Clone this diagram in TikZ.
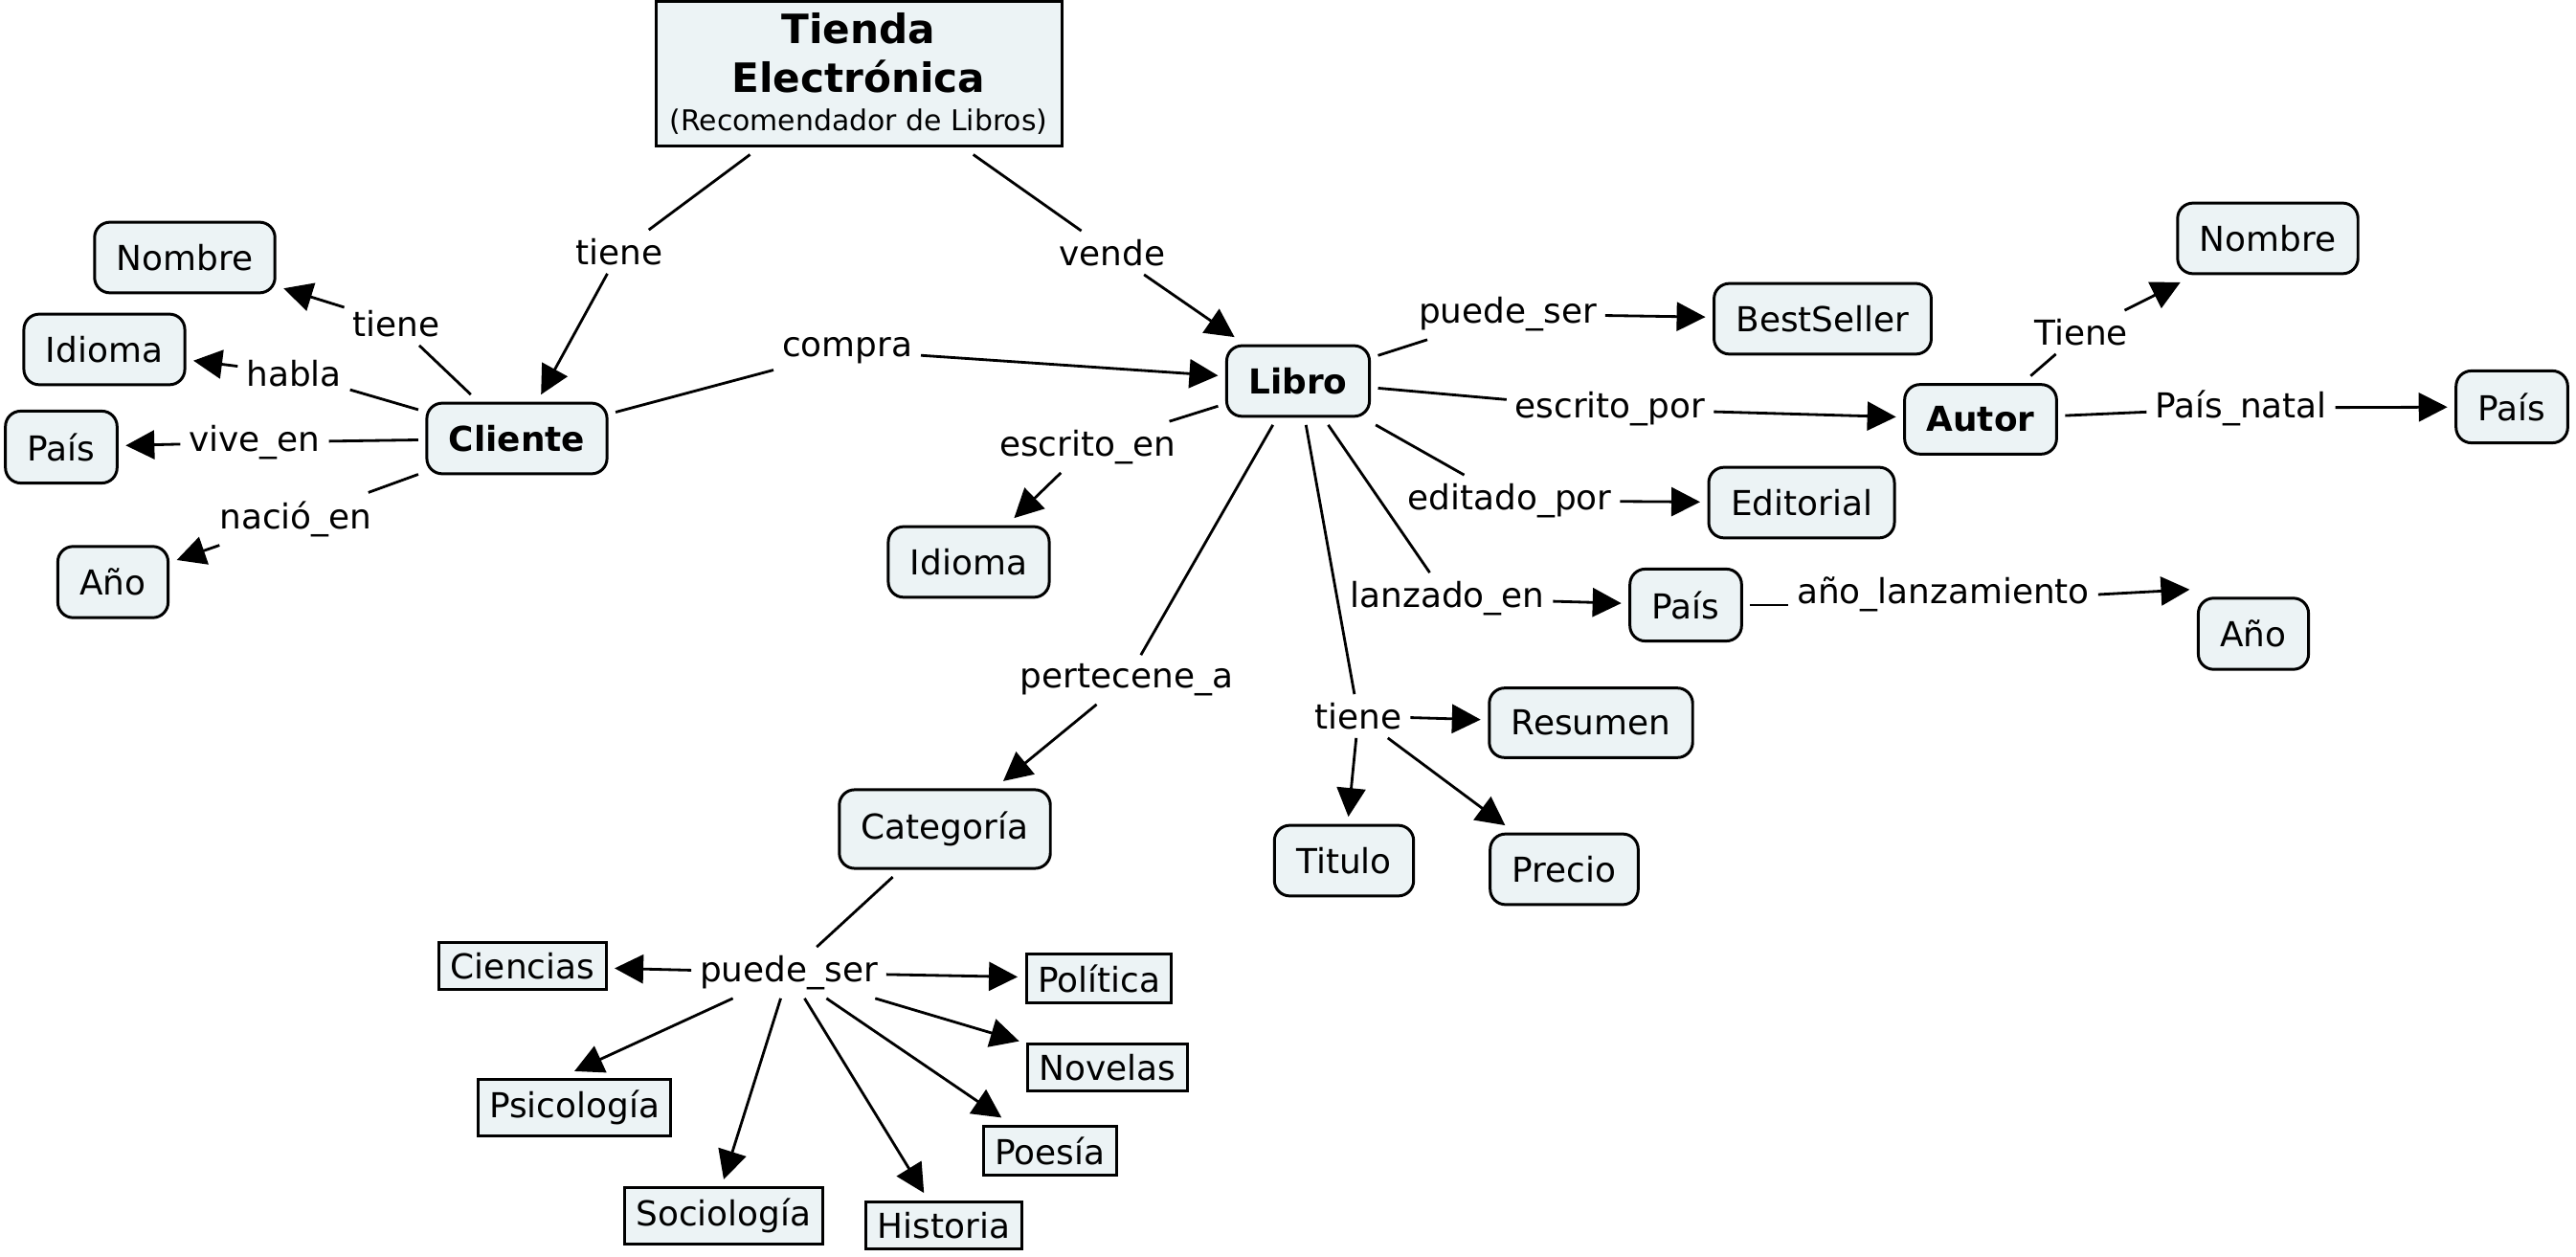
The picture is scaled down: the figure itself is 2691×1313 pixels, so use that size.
\documentclass[tikz,border=0pt]{standalone}
\usepackage{fontspec}
\setmainfont{DejaVu Sans}
\usetikzlibrary{arrows.meta}
\definecolor{cfill}{RGB}{236,243,245}
\tikzset{
  concept/.style={draw, line width=0.85pt, fill=cfill, rounded corners=1.6mm, inner xsep=2.3mm, inner ysep=2.3mm, outer sep=0.9mm, font=\fontsize{10.2}{12}\selectfont},
  bconcept/.style={concept, font=\fontsize{10.2}{12}\selectfont\bfseries},
  leaf/.style={draw, line width=0.85pt, fill=cfill, inner xsep=1.2mm, inner ysep=1.1mm, outer sep=0.9mm, font=\fontsize{10.2}{12}\selectfont},
  titlebox/.style={draw, line width=0.85pt, fill=cfill, align=center, minimum width=42.4mm, minimum height=15.1mm, inner sep=0.5mm, outer sep=0.9mm, font=\fontsize{12}{14.5}\selectfont\bfseries},
  lab/.style={inner sep=0.9mm, outer sep=0pt, font=\fontsize{10.2}{12}\selectfont},
  ln/.style={line width=0.8pt},
  arr/.style={line width=0.8pt, -{Triangle[length=3mm,width=3mm]}}
}
\begin{document}
\begin{tikzpicture}[x=0.1mm,y=-0.1mm]
\useasboundingbox (0,0) rectangle (2691,1313);
% concepts
\node[titlebox] (title) at (897,77) {Tienda\\Electrónica\\[-3pt]{\mdseries\fontsize{8.5}{10}\selectfont (Recomendador de Libros)}};
\node[concept] (nomL) at (193,269) {Nombre};
\node[concept] (idiL) at (109,365) {Idioma};
\node[concept] (paisL) at (64,467) {País};
\node[concept] (anoL) at (118,608) {Año};
\node[bconcept] (cliente) at (540,458) {Cliente};
\node[bconcept] (libro) at (1356,398) {Libro};
\node[concept] (idiM) at (1012,587) {Idioma};
\node[concept] (best) at (1904,333) {BestSeller};
\node[bconcept] (autor) at (2069,438) {Autor};
\node[concept] (nomR) at (2369,249) {Nombre};
\node[concept] (paisR) at (2624,425) {País};
\node[concept] (edit) at (1882,525) {Editorial};
\node[concept] (paisM) at (1761,632) {País};
\node[concept] (anoR) at (2354,662) {Año};
\node[concept] (resumen) at (1662,755) {Resumen};
\node[concept] (titulo) at (1404,899) {Titulo};
\node[concept] (precio) at (1634,908) {Precio};
\node[concept] (categ) at (987,866) {Categoría};
\node[leaf] (ciencias) at (546,1009) {Ciencias};
\node[leaf] (politica) at (1148,1022) {Política};
\node[leaf] (psico) at (600,1157) {Psicología};
\node[leaf] (novelas) at (1157,1115) {Novelas};
\node[leaf] (poesia) at (1097,1202) {Poesía};
\node[leaf] (socio) at (756,1270) {Sociología};
\node[leaf] (historia) at (986,1280) {Historia};
% linking phrases
\node[lab] (ltieneA) at (647,263) {tiene};
\node[lab] (lvende) at (1162,264) {vende};
\node[lab] (ltieneB) at (414,338) {tiene};
\node[lab] (lhabla) at (307,390) {habla};
\node[lab] (lvive) at (266,462) {vive\_en};
\node[lab] (lnacio) at (309,542) {nació\_en};
\node[lab] (lcompra) at (885,366) {compra};
\node[lab] (lpuedeA) at (1575,328) {puede\_ser};
\node[lab] (lescpor) at (1682,427) {escrito\_por};
\node[lab] (lescen) at (1136,467) {escrito\_en};
\node[lab] (ledit) at (1577,523) {editado\_por};
\node[lab] (llanz) at (1512,625) {lanzado\_en};
\node[lab] (lanol) at (2030,621) {año\_lanzamiento};
\node[lab] (lTiene) at (2174,347) {Tiene};
\node[lab] (lnatal) at (2341,426) {País\_natal};
\node[lab] (lpert) at (1177,710) {pertecene\_a};
\node[lab] (ltieneC) at (1419,748) {tiene};
\node[lab] (lpuedeB) at (824,1016) {puede\_ser};
% connectors
\draw[ln] (title) -- (ltieneA); \draw[arr] (ltieneA) -- (cliente);
\draw[ln] (title) -- (lvende); \draw[arr] (lvende) -- (libro);
\draw[ln] (cliente) -- (ltieneB); \draw[arr] (ltieneB) -- (nomL);
\draw[ln] (cliente) -- (lhabla); \draw[arr] (lhabla) -- (idiL);
\draw[ln] (cliente) -- (lvive); \draw[arr] (lvive) -- (paisL);
\draw[ln] (cliente) -- (lnacio); \draw[arr] (lnacio) -- (anoL);
\draw[ln] (cliente) -- (lcompra); \draw[arr] (lcompra) -- (libro);
\draw[ln] (libro) -- (lpuedeA); \draw[arr] (lpuedeA) -- (best);
\draw[ln] (libro) -- (lescpor); \draw[arr] (lescpor) -- (autor);
\draw[ln] (libro) -- (lescen); \draw[arr] (lescen) -- (idiM);
\draw[ln] (libro) -- (ledit); \draw[arr] (ledit) -- (edit);
\draw[ln] (libro) -- (llanz); \draw[arr] (llanz) -- (paisM);
\draw[ln] (paisM.east) -- (paisM.east -| lanol.west); \draw[arr] (lanol.east) -- (anoR.north west);
\draw[ln] (autor) -- (lTiene); \draw[arr] (lTiene) -- (nomR);
\draw[ln] (autor) -- (lnatal); \draw[arr] (lnatal) -- (paisR);
\draw[ln] (libro) -- (lpert); \draw[arr] (lpert) -- (categ);
\draw[ln] (libro) -- (ltieneC);
\draw[arr] (ltieneC) -- (resumen);
\draw[arr] (ltieneC) -- (titulo);
\draw[arr] (ltieneC) -- (precio);
\draw[ln] (categ) -- (lpuedeB);
\draw[arr] (lpuedeB) -- (ciencias);
\draw[arr] (lpuedeB) -- (politica);
\draw[arr] (lpuedeB) -- (psico.north);
\draw[arr] (lpuedeB) -- (novelas);
\draw[arr] (lpuedeB) -- (poesia);
\draw[arr] (lpuedeB) -- (socio.north);
\draw[arr] (lpuedeB) -- (historia);
\end{tikzpicture}
\end{document}
